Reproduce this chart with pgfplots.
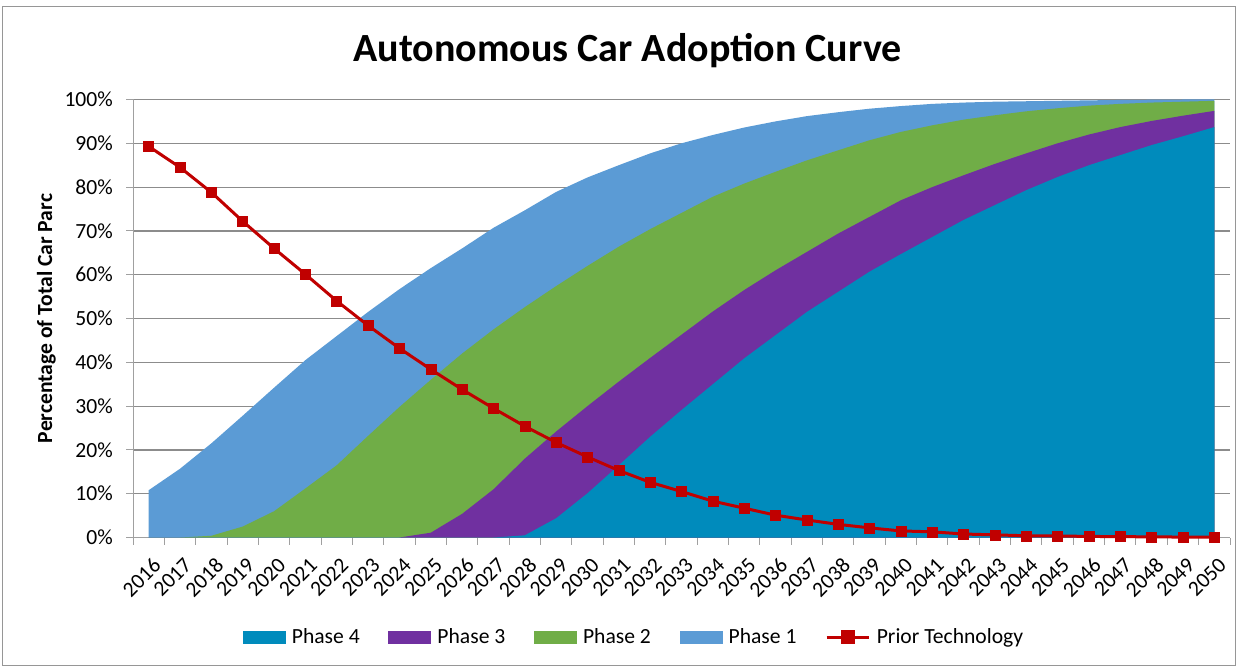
\documentclass[border=0pt]{standalone}
\usepackage{fontspec}
\setmainfont{Carlito}
\usepackage{pgfplots}
\usepackage{pgfplotstable}
\pgfplotsset{compat=1.18}

\definecolor{phasefour}{RGB}{0,139,188}
\definecolor{phasethree}{RGB}{112,48,160}
\definecolor{phasetwo}{RGB}{112,173,71}
\definecolor{phaseone}{RGB}{91,155,213}
\definecolor{priorred}{RGB}{192,0,0}
\definecolor{gridgray}{RGB}{140,140,140}
\definecolor{axisgray}{RGB}{160,160,160}
\definecolor{framegray}{RGB}{150,150,150}

% share of the car parc (percent): top edge of each stacked phase band
% (t4 = Phase 4, t3 = Phase 4+3, t2 = Phase 4+3+2, t1 = all phases)
% and the share still on the prior technology
\pgfplotstableread{
idx year t4 t3 t2 t1 prior
0 2016 0 0 0 10.8 89.3
1 2017 0 0 0 15.7 84.5
2 2018 0 0 0.4 21.5 78.8
3 2019 0 0 2.5 27.8 72.2
4 2020 0 0 6.0 34.2 66.0
5 2021 0 0 11.2 40.5 60.1
6 2022 0 0 16.5 46.0 54.0
7 2023 0 0 23.2 51.5 48.4
8 2024 0 0 29.8 56.7 43.2
9 2025 0 1.1 36.0 61.5 38.4
10 2026 0 5.4 42.0 66.0 33.8
11 2027 0 11.0 47.5 70.7 29.5
12 2028 0.5 18.0 52.6 74.7 25.4
13 2029 4.4 24.2 57.4 78.9 21.7
14 2030 10.1 30.0 62.0 82.2 18.4
15 2031 16.5 35.6 66.4 85.0 15.3
16 2032 23.0 41.0 70.4 87.7 12.6
17 2033 29.1 46.3 74.1 90.0 10.5
18 2034 35.0 51.6 77.8 91.9 8.3
19 2035 40.9 56.5 80.8 93.6 6.7
20 2036 46.2 61.0 83.5 95.0 5.1
21 2037 51.5 65.2 86.1 96.2 4.0
22 2038 56.1 69.4 88.4 97.1 3.0
23 2039 60.7 73.2 90.7 97.9 2.2
24 2040 64.7 77.0 92.6 98.5 1.5
25 2041 68.6 80.0 94.1 99.0 1.3
26 2042 72.5 82.7 95.4 99.3 0.8
27 2043 75.9 85.3 96.4 99.5 0.6
28 2044 79.3 87.7 97.3 99.6 0.4
29 2045 82.3 90.0 98.0 99.7 0.35
30 2046 85.0 92.0 98.6 99.8 0.25
31 2047 87.3 93.7 99.0 99.9 0.2
32 2048 89.6 95.1 99.3 99.95 0.15
33 2049 91.6 96.3 99.5 100 0.1
34 2050 93.7 97.4 99.7 100 0.1
}\adoption

\newcommand{\labelfont}{\fontsize{21.6}{26}\selectfont}

\begin{document}
\begin{tikzpicture}
\begin{axis}[
  name=ax,
  scale only axis, width=1097pt, height=438pt,
  xmin=-0.5, xmax=34.5, ymin=0, ymax=100,
  clip=false,
  axis x line*=bottom, axis y line*=left,
  axis line style={draw=axisgray, line width=1pt, -},
  tick align=outside,
  major tick length=7pt,
  tick style={axisgray, line width=1pt},
  tick label style={font=\labelfont, text=black},
  ytick={0,10,...,100},
  yticklabels={0\%,10\%,20\%,30\%,40\%,50\%,60\%,70\%,80\%,90\%,100\%},
  yticklabel style={anchor=east, inner sep=0pt, xshift=-13pt},
  ymajorgrids,
  grid style={gridgray, line width=1.2pt},
  xtick={-0.5,0.5,...,34.5},
  xticklabels={},
  extra x ticks={0,1,...,34},
  extra x tick labels={2016,2017,2018,2019,2020,2021,2022,2023,2024,2025,2026,2027,2028,2029,2030,2031,2032,2033,2034,2035,2036,2037,2038,2039,2040,2041,2042,2043,2044,2045,2046,2047,2048,2049,2050},
  extra x tick style={major tick length=0pt, grid=none,
    xticklabel style={xshift=3pt, yshift=-19pt, rotate=45, anchor=north east, inner sep=0pt}},
  legend columns=5,
  legend style={at={(axis description cs:0.4567,-0.2272)}, anchor=center,
    draw=none, fill=none, font=\labelfont,
    /tikz/every even column/.append style={column sep=26.7pt}},
]
% legend swatches for the stacked bands
\addlegendimage{legend image code/.code={\fill[phasefour] (0pt,-6.3pt) rectangle (42pt,6.3pt); \path (46.6pt,0pt);}}
\addlegendentry{Phase 4}
\addlegendimage{legend image code/.code={\fill[phasethree] (0pt,-6.3pt) rectangle (42pt,6.3pt); \path (46.6pt,0pt);}}
\addlegendentry{Phase 3}
\addlegendimage{legend image code/.code={\fill[phasetwo] (0pt,-6.3pt) rectangle (42pt,6.3pt); \path (46.6pt,0pt);}}
\addlegendentry{Phase 2}
\addlegendimage{legend image code/.code={\fill[phaseone] (0pt,-6.3pt) rectangle (42pt,6.3pt); \path (46.6pt,0pt);}}
\addlegendentry{Phase 1}

% bands, painted from the outermost edge inwards
\addplot[fill=phaseone, draw=none, forget plot] table[x=idx, y=t1] {\adoption} \closedcycle;
\addplot[fill=phasetwo, draw=none, forget plot] table[x=idx, y=t2] {\adoption} \closedcycle;
\addplot[fill=phasethree, draw=none, forget plot] table[x=idx, y=t3] {\adoption} \closedcycle;
\addplot[fill=phasefour, draw=none, forget plot] table[x=idx, y=t4] {\adoption} \closedcycle;

\addplot[priorred, line width=3pt, mark=square*, mark size=5pt,
  mark options={fill=priorred, draw=priorred, line width=0.5pt},
  legend image code/.code={\draw[priorred, line width=3pt] (0pt,0pt) -- (42pt,0pt);
    \fill[priorred] (15.7pt,-5.3pt) rectangle (26.3pt,5.3pt); \path (46.6pt,0pt);}]
  table[x=idx, y=prior] {\adoption};
\addlegendentry{Prior Technology}

\node[font=\fontsize{40}{48}\selectfont\bfseries, anchor=base]
  at (axis description cs:0.45077,1.08562) {Autonomous Car Adoption Curve};
\node[font=\labelfont\bfseries, rotate=90, anchor=base]
  at (axis description cs:-0.07384,0.5) {Percentage of Total Car Parc};
\draw[framegray, line width=1pt]
  (axis description cs:-0.11896,-0.29224) rectangle (axis description cs:1.00501,1.21233);
\coordinate (bbsw) at (axis description cs:-0.12124,-0.29566);
\coordinate (bbne) at (axis description cs:1.00729,1.22717);
\end{axis}
\pgfresetboundingbox
\useasboundingbox (bbsw) rectangle (bbne);
\end{tikzpicture}
\end{document}
